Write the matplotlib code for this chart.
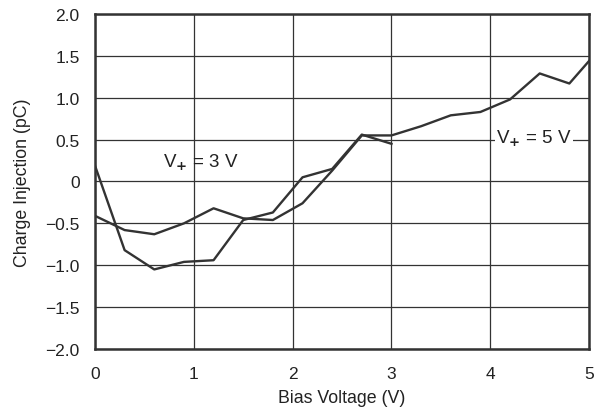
import numpy as np
import matplotlib
matplotlib.use('Agg')
import matplotlib.pyplot as plt

plt.rcParams['font.family'] = ['Liberation Sans', 'DejaVu Sans']
plt.rcParams['mathtext.fontset'] = 'custom'
plt.rcParams['mathtext.rm'] = 'Liberation Sans'
plt.rcParams['mathtext.it'] = 'Liberation Sans'
plt.rcParams['axes.unicode_minus'] = True

# V+ = 3 V curve
x3 = [0.0, 0.3, 0.6, 0.9, 1.2, 1.5, 1.8, 2.1, 2.4, 2.7, 3.0]
q3 = [0.19, -0.82, -1.05, -0.96, -0.94, -0.46, -0.37, 0.05, 0.15, 0.56, 0.45]

# V+ = 5 V curve
x5 = [0.0, 0.3, 0.6, 0.9, 1.2, 1.5, 1.8, 2.1, 2.4, 2.7, 3.0, 3.3, 3.6, 3.9, 4.2, 4.5, 4.8, 5.0]
q5 = [-0.41, -0.58, -0.63, -0.50, -0.32, -0.44, -0.46, -0.26, 0.13, 0.55, 0.55, 0.66, 0.79, 0.83, 0.98, 1.29, 1.17, 1.44]

yticks = [-2.0, -1.5, -1.0, -0.5, 0, 0.5, 1.0, 1.5, 2.0]
ylabels = ['\u22122.0', '\u22121.5', '\u22121.0', '\u22120.5', '0', '0.5', '1.0', '1.5', '2.0']

line_col = '#333333'
txt_col = '#222222'

fig = plt.figure(figsize=(6.03, 4.14), dpi=100)
ax = fig.add_axes([0.1575, 0.1546, 0.8195, 0.8092])

ax.plot(x3, q3, color=line_col, lw=1.7, zorder=3)
ax.plot(x5, q5, color=line_col, lw=1.7, zorder=3)

ax.set_xlim(0, 5)
ax.set_ylim(-2, 2)
ax.set_xticks([0, 1, 2, 3, 4, 5])
ax.set_yticks(yticks)
ax.set_yticklabels(ylabels)
ax.tick_params(length=0, labelsize=12.5, colors=txt_col)
ax.tick_params(axis='y', pad=11)
ax.tick_params(axis='x', pad=12)
ax.grid(True, color='#333333', lw=0.9)
ax.set_axisbelow(True)
for sp in ax.spines.values():
    sp.set_linewidth(1.8)
    sp.set_color('#333333')

ax.set_xlabel('Bias Voltage (V)', fontsize=12.8, color=txt_col, labelpad=6)
ax.set_ylabel('Charge Injection (pC)', fontsize=12.8, color=txt_col, labelpad=10)

ax.text(1.07, 0.25, 'V$_{\\mathbf{+}}$ = 3 V', fontsize=13.5, ha='center', va='center', color=txt_col, zorder=4)
ax.text(4.44, 0.53, 'V$_{\\mathbf{+}}$ = 5 V', fontsize=13.5, ha='center', va='center', color=txt_col, zorder=4,
        bbox=dict(facecolor='white', edgecolor='none', pad=1))

fig.savefig('out.png', dpi=100)
